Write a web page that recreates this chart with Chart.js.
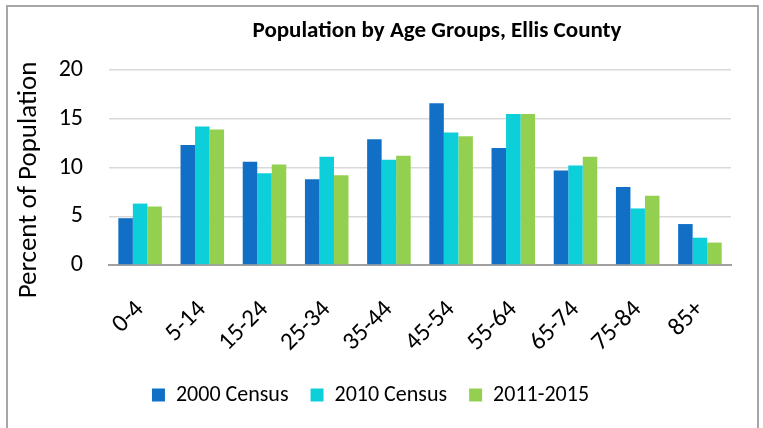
<!DOCTYPE html>
<html>
<head>
<meta charset="utf-8">
<script src="https://cdn.jsdelivr.net/npm/chart.js@4/dist/chart.umd.min.js"></script>
<style>
  html, body { margin: 0; padding: 0; background: #fff; }
  #wrap { width: 763px; height: 428px; position: relative; }
</style>
</head>
<body>
<div id="wrap"><canvas id="c" width="763" height="428"></canvas></div>
<script>
const categories = ['0-4', '5-14', '15-24', '25-34', '35-44', '45-54', '55-64', '65-74', '75-84', '85+'];
const census2000 = [4.8, 12.3, 10.6, 8.8, 12.9, 16.6, 12.0, 9.7, 8.0, 4.2];
const census2010 = [6.3, 14.2, 9.4, 11.1, 10.8, 13.6, 15.5, 10.2, 5.8, 2.8];
const acs20112015 = [6.0, 13.9, 10.3, 9.2, 11.2, 13.2, 15.5, 11.1, 7.1, 2.3];
const yTicks = [0, 5, 10, 15, 20];
const seriesNames = ['2000 Census', '2010 Census', '2011-2015'];
const chartTitle = 'Population by Age Groups, Ellis County';
const yTitle = 'Percent of Population';

const FONT = 'Carlito, Lato, "Liberation Sans", sans-serif';

const frameAndTitle = {
  id: 'frameAndTitle',
  afterDraw(chart) {
    const ctx = chart.ctx;
    ctx.save();
    ctx.strokeStyle = '#a6a6a6';
    ctx.lineWidth = 2;
    ctx.beginPath();
    ctx.moveTo(7, 440);
    ctx.lineTo(7, 6);
    ctx.lineTo(758, 6);
    ctx.lineTo(758, 440);
    ctx.stroke();
    ctx.fillStyle = '#000';
    ctx.font = 'bold 23px ' + FONT;
    ctx.textAlign = 'center';
    ctx.textBaseline = 'middle';
    ctx.fillText(chartTitle, 437, 31);
    // y axis title
    ctx.translate(29, 180);
    ctx.rotate(-Math.PI / 2);
    ctx.font = '27px ' + FONT;
    ctx.fillText(yTitle, 0, 0);
    ctx.restore();
  }
};

new Chart(document.getElementById('c'), {
  type: 'bar',
  data: {
    labels: categories,
    datasets: [
      { label: seriesNames[0], data: census2000, backgroundColor: '#1170C6' },
      { label: seriesNames[1], data: census2010, backgroundColor: '#0CCFD9' },
      { label: seriesNames[2], data: acs20112015, backgroundColor: '#94D050' }
    ]
  },
  options: {
    responsive: false,
    animation: false,
    devicePixelRatio: 1,
    layout: { padding: { left: 10, right: 32, top: 70, bottom: 12 } },
    datasets: { bar: { categoryPercentage: 0.7, barPercentage: 1.0, borderWidth: 0 } },
    plugins: {
      title: { display: false },
      tooltip: { enabled: false },
      legend: {
        position: 'bottom',
        labels: {
          font: { family: FONT, size: 22 },
          color: '#000',
          boxWidth: 13,
          boxHeight: 13,
          padding: 22
        }
      }
    },
    scales: {
      x: {
        grid: { display: false, drawTicks: false },
        border: { display: true, color: '#a0a0a0', width: 2 },
        ticks: {
          font: { family: FONT, size: 25 },
          color: '#000',
          minRotation: 45,
          maxRotation: 45,
          padding: 30
        },
        afterFit(scale) { scale.height = 97; }
      },
      y: {
        min: 0,
        max: 20,
        afterBuildTicks(scale) { scale.ticks = yTicks.map(v => ({ value: v })); },
        grid: { color: '#d9d9d9', lineWidth: 1.5, drawTicks: false },
        border: { display: false },
        ticks: {
          font: { family: FONT, size: 24 },
          color: '#000',
          padding: 26
        },
        title: { display: false },
        afterFit(scale) { scale.width = 99; }
      }
    }
  },
  plugins: [frameAndTitle]
});
</script>
</body>
</html>
